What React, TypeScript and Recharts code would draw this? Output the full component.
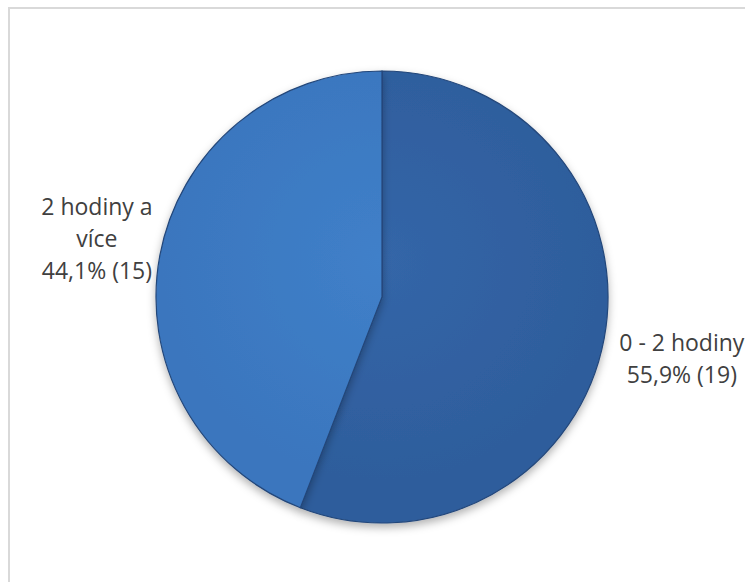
import { PieChart, Pie, Cell } from "recharts"

const categories = ["0 - 2 hodiny", "2 hodiny a více"]
const counts = [19, 15]
const sliceColors = ["#2e5d9c", "#3a76be"]
const sliceLight = ["#3466a8", "#4080c9"]

const total = counts.reduce((a, b) => a + b, 0)
const data = categories.map((name, i) => ({ name, value: counts[i] }))

const wrap = (text: string, max: number) => {
  const words = text.split(" ")
  const lines: string[] = []
  let cur = ""
  for (const w of words) {
    const next = cur ? cur + " " + w : w
    if (next.length > max && cur) {
      lines.push(cur)
      cur = w
    } else cur = next
  }
  if (cur) lines.push(cur)
  return lines
}

const RAD = Math.PI / 180

function renderLabel(props: any) {
  const { cx, cy, midAngle, outerRadius, name, value } = props
  const cos = Math.cos(-midAngle * RAD)
  const sin = Math.sin(-midAngle * RAD)
  // labels sit outside the slice, a bit further out on the right side
  const r = outerRadius + (cos > 0 ? 79 : 64)
  const x = cx + r * cos
  const y = cy + r * sin + (cos > 0 ? 5 : -6)
  const pct = ((value / total) * 100).toFixed(1).replace(".", ",")
  const lines = [...wrap(name, 12), `${pct}% (${value})`]
  const lh = 32
  const top = y - ((lines.length - 1) * lh) / 2
  return (
    <text
      x={x}
      y={top}
      textAnchor="middle"
      dominantBaseline="central"
      fill="#404040"
      fontSize={23}
      fontFamily="'Open Sans', sans-serif"
    >
      {lines.map((l, i) => (
        <tspan key={i} x={x} y={top + i * lh}>
          {l}
        </tspan>
      ))}
    </text>
  )
}

export default function App() {
  return (
    <div style={{ position: "fixed", left: 0, top: 0, width: 745, height: 582, overflow: "hidden", background: "#fff" }}>
      <div
        style={{
          position: "absolute",
          left: 8,
          top: 7,
          width: 745,
          height: 582,
          borderLeft: "2px solid #d9d9d9",
          borderTop: "2px solid #d9d9d9",
        }}
      />
      <div style={{ position: "absolute", left: 0, top: 0 }}>
        <PieChart width={745} height={582} margin={{ top: 0, right: 0, bottom: 0, left: 0 }}>
          <defs>
            <filter id="pieShadow" x="-20%" y="-20%" width="140%" height="140%">
              <feDropShadow dx="0" dy="4" stdDeviation="4" floodColor="#000" floodOpacity="0.3" />
            </filter>
            {sliceColors.map((c, i) => (
              <radialGradient key={i} id={`grad${i}`} cx="382" cy="260" r="260" gradientUnits="userSpaceOnUse">
                <stop offset="0%" stopColor={sliceLight[i]} />
                <stop offset="85%" stopColor={c} />
                <stop offset="100%" stopColor={c} />
              </radialGradient>
            ))}
          </defs>
          <Pie
            data={data}
            dataKey="value"
            nameKey="name"
            cx={382}
            cy={297}
            outerRadius={226}
            startAngle={90}
            endAngle={-270}
            stroke="#24477a"
            strokeWidth={1.2}
            label={renderLabel}
            labelLine={false}
            isAnimationActive={false}
            style={{ filter: "url(#pieShadow)" }}
          >
            {data.map((d, i) => (
              <Cell key={d.name} fill={`url(#grad${i})`} />
            ))}
          </Pie>
        </PieChart>
      </div>
    </div>
  )
}
